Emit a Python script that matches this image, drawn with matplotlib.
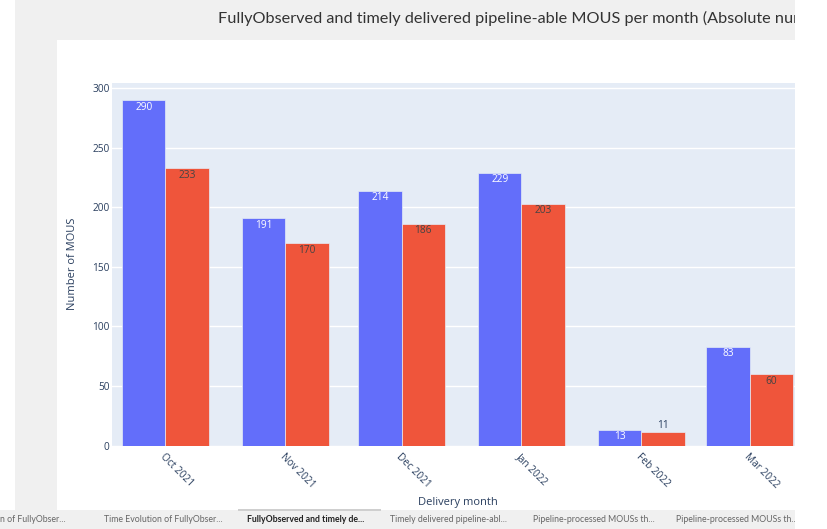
import datetime as dt
import numpy as np
import matplotlib
matplotlib.use('Agg')
import matplotlib.pyplot as plt
import matplotlib.dates as mdates
from matplotlib.patches import Rectangle

# data
months = [dt.date(2021, 10, 1), dt.date(2021, 11, 1), dt.date(2021, 12, 1),
          dt.date(2022, 1, 1), dt.date(2022, 2, 1), dt.date(2022, 3, 1)]
month_labels = ['Oct 2021', 'Nov 2021', 'Dec 2021', 'Jan 2022', 'Feb 2022', 'Mar 2022']
fully_observed = [290, 191, 214, 229, 13, 83]
timely_delivered = [233, 170, 186, 203, 11, 60]
y_ticks = [0, 50, 100, 150, 200, 250, 300]

title = 'FullyObserved and timely delivered pipeline-able MOUS per month (Absolute numbers)'
tab_labels = ['n of FullyObser...', 'Time Evolution of FullyObser...', 'FullyObserved and timely de...',
              'Timely delivered pipeline-abl...', 'Pipeline-processed MOUSs th...', 'Pipeline-processed MOUSs th...']
tab_x = [0, 104, 247, 390, 533, 676]
active_tab = 2

W, H = 828, 529
fig = plt.figure(figsize=(W / 100, H / 100), dpi=100)
fig.patch.set_facecolor('white')


def px_rect(x0, y0, x1, y1, color, z):
    fig.add_artist(Rectangle((x0 / W, 1 - y1 / H), (x1 - x0) / W, (y1 - y0) / H,
                             transform=fig.transFigure, facecolor=color,
                             edgecolor='none', zorder=z))


# page background (app frame around the plotly chart)
px_rect(15, 0, 795, 510, '#f0f0f0', -10)
px_rect(57, 40, 795, 510, 'white', -9)
px_rect(0, 510, 795, 529, '#f0f0f0', -9)
px_rect(238, 509, 381, 511, '#cfcfcf', -8)

fig.text(218 / W, 1 - 18 / H, title, family='Lato', fontsize=11.7, color='#333333',
         ha='left', va='center')

for i, (lbl, tx) in enumerate(zip(tab_labels, tab_x)):
    fig.text(tx / W, 1 - 520 / H, lbl, family='Lato', fontsize=6.3,
             color='#222222' if i == active_tab else '#666666',
             fontweight='bold' if i == active_tab else 'normal', ha='left', va='center')

# plot area
ax = fig.add_axes([111.7 / W, 1 - 445.5 / H, 691.9 / W, (445.5 - 82.7) / H])
ax.set_facecolor('#E5ECF6')
for s in ax.spines.values():
    s.set_visible(False)

x = mdates.date2num(months)
bw = np.diff(x).min() * 0.8 / 2
blue, red = '#636efa', '#EF553B'
ax.bar(x - bw / 2, fully_observed, width=bw, color=blue, edgecolor='#E5ECF6', linewidth=0.5, zorder=2)
ax.bar(x + bw / 2, timely_delivered, width=bw, color=red, edgecolor='#E5ECF6', linewidth=0.5, zorder=2)

ax.set_xlim(x[0] - 13.9, x[-1] + 13.9)
ax.set_ylim(0, 304.7)

# value labels (plotly "auto" text position)
px_per_unit = 362.8 / 304.7
for xs, vals, inside_col in [(x - bw / 2, fully_observed, 'white'), (x + bw / 2, timely_delivered, '#444444')]:
    for xi, v in zip(xs, vals):
        if v * px_per_unit > 14:
            ax.annotate(str(v), (xi, v), xytext=(0, -5), textcoords='offset points',
                        ha='center', va='center', fontsize=7.3, family='Open Sans', color=inside_col, zorder=3)
        else:
            ax.annotate(str(v), (xi, v), xytext=(0, 5), textcoords='offset points',
                        ha='center', va='center', fontsize=7.3, family='Open Sans', color='#2a3f5f', zorder=3)

ax.set_yticks(y_ticks)
ax.grid(axis='y', color='white', linewidth=1, zorder=1)
ax.set_axisbelow(True)
ax.tick_params(axis='both', length=0, labelsize=7.3, labelcolor='#2a3f5f')
ax.tick_params(axis='y', pad=1.5)
ax.tick_params(axis='x', pad=4)
ax.set_xticks(x)
ax.set_xticklabels(month_labels, rotation=-45, ha='left', va='top', rotation_mode='anchor')
for t in ax.get_xticklabels() + ax.get_yticklabels():
    t.set_family('Open Sans')

fig.text(73 / W, 1 - 264 / H, 'Number of MOUS', rotation=90, family='Open Sans', fontsize=8,
         color='#2a3f5f', ha='center', va='center')
fig.text(457.5 / W, 1 - 502.5 / H, 'Delivery month', family='Open Sans', fontsize=8,
         color='#2a3f5f', ha='center', va='center')

# the screenshot is cut off on the right
px_rect(795, 0, 828, 529, 'white', 20)

fig.savefig('out.png', dpi=100)
